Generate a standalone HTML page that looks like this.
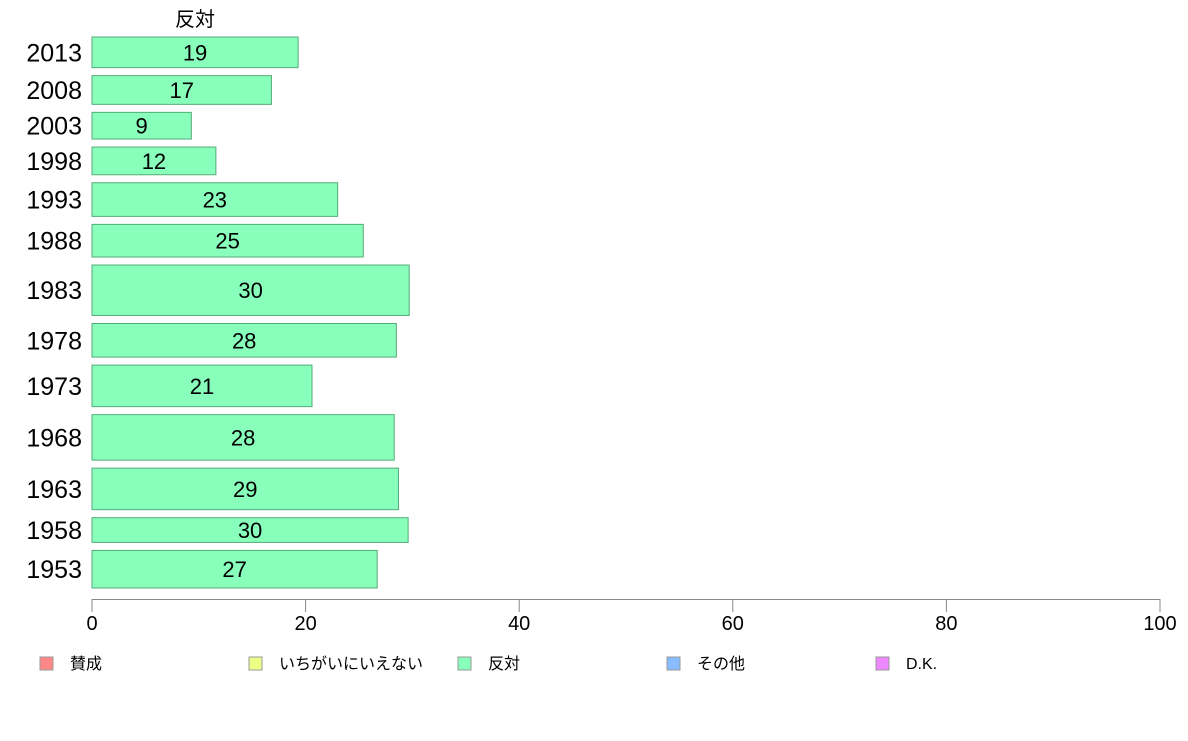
<!DOCTYPE html>
<html><head><meta charset="utf-8"><style>
body{margin:0;background:#fff;}
svg text{font-family:"Liberation Sans","Noto Sans CJK JP",sans-serif;}
</style></head><body>
<svg id="chart" width="1188" height="736" xmlns="http://www.w3.org/2000/svg">
<text x="195" y="26" font-size="20" text-anchor="middle">反対</text>
<g id="bars"></g>
<g id="axis"></g>
<g id="legend"></g>
</svg>
<script>
const years=["2013","2008","2003","1998","1993","1988","1983","1978","1973","1968","1963","1958","1953"];
const values=[19.3,16.8,9.3,11.6,23.0,25.4,29.7,28.5,20.6,28.3,28.7,29.6,26.7];
const labels=["19","17","9","12","23","25","30","28","21","28","29","30","27"];
const sampleWeights=[31,29,27,28,34,33,51,34,42,46,42,25,38];
const ticks=[0,20,40,60,80,100];
const legendNames=["賛成","いちがいにいえない","反対","その他","D.K."];
const legendColors=["#ff8888","#eeff88","#88ffbb","#88bbff","#ee88ff"];
const NS="http://www.w3.org/2000/svg";
const x0=92,x1=1160,plotTop=37,gap=8;
const xs=v=>x0+(x1-x0)*v/100;
function mk(t,a,p){const e=document.createElementNS(NS,t);for(const k in a)e.setAttribute(k,a[k]);p.appendChild(e);return e;}
const bars=document.getElementById('bars');
let y=plotTop;
const totalW=sampleWeights.reduce((a,b)=>a+b,0);
const avail=588-plotTop-gap*(years.length-1);
years.forEach((yr,i)=>{
  const h=avail*sampleWeights[i]/totalW;
  const r=mk('rect',{x:x0,y:y,width:xs(values[i])-x0,height:h,fill:'#88ffbb',stroke:'#55aa77','stroke-width':1},bars);
  
  
  const t=mk('text',{x:(x0+xs(values[i]))/2,y:y+h/2+8,'font-size':22,'text-anchor':'middle'},bars);
  t.textContent=labels[i];
  
  
  const c=mk('text',{x:82,y:y+h/2+9,'font-size':25,'text-anchor':'end'},bars);
  c.textContent=yr;
  
  
  y+=h+gap;
});
const ax=document.getElementById('axis');
const l=mk('line',{x1:x0,x2:x1,y1:599.5,y2:599.5,stroke:'#888'},ax);


ticks.forEach(v=>{
  const tl=mk('line',{x1:xs(v),x2:xs(v),y1:599,y2:612,stroke:'#888'},ax);
  
  
  const t=mk('text',{x:xs(v),y:630,'font-size':20,'text-anchor':'middle'},ax);
  t.textContent=v;
  
  
});
const lg=document.getElementById('legend');
legendNames.forEach((n,i)=>{
  const lx=40+209*i;
  const r=mk('rect',{x:lx,y:657,width:13,height:13,fill:legendColors[i],stroke:'#999'},lg);
  
  
  const t=mk('text',{x:lx+30,y:669,'font-size':16},lg);
  t.textContent=n;
  
  
});
</script>
</body></html>
